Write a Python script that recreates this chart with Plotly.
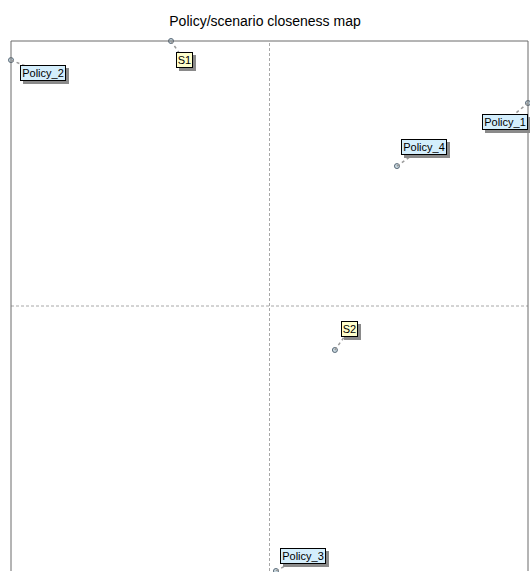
import plotly.graph_objects as go

# Data (normalized closeness coordinates)
names = ["Policy_1", "Policy_2", "Policy_3", "Policy_4", "S1", "S2"]
xs = [1.0, -1.0, 0.025, 0.493, -0.381, 0.253]
ys = [0.766, 0.928, -1.0, 0.528, 1.0, -0.166]
kinds = ["policy", "policy", "policy", "policy", "scenario", "scenario"]
# label offsets in pixels (screen: +x right, +y down)
label_dx = [-23, 32, 27, 27, 13, 15]
label_dy = [19, 13, -15, -19, 19, -21]

fill = {"policy": "#d4eefc", "scenario": "#ffffcc"}
box_w = {"policy": 44, "scenario": 15}
box_h = 14
label_font = "Liberation Sans, Arial"

fig = go.Figure()

fig.add_trace(go.Scatter(
    x=xs, y=ys, mode="markers",
    marker=dict(symbol="circle", size=5, color="#c8d8e0",
                line=dict(color="#5a6a78", width=1)),
    hoverinfo="text", text=names, showlegend=False, cliponaxis=False,
))

shapes = []
# dashed center lines
shapes.append(dict(type="line", xref="x", yref="paper", x0=0, x1=0, y0=0, y1=1,
                   line=dict(color="#a8a8a8", width=1, dash="3px,2px"), layer="below"))
shapes.append(dict(type="line", xref="paper", yref="y", x0=0, x1=1, y0=0, y1=0,
                   line=dict(color="#a8a8a8", width=1, dash="3px,2px"), layer="below"))
# border (left, top, right)
for (x0, y0, x1, y1) in [(0, 0, 0, 1), (0, 1, 1, 1), (1, 0, 1, 1)]:
    shapes.append(dict(type="line", xref="paper", yref="paper", x0=x0, y0=y0, x1=x1, y1=y1,
                       line=dict(color="#6a6a6a", width=1)))

annotations = []
for n, x, y, k, dx, dy in zip(names, xs, ys, kinds, label_dx, label_dy):
    # dotted leader line
    lx = dx * 0.6
    ly = dy * 0.6
    shapes.append(dict(type="line", xref="x", yref="y", xsizemode="pixel", ysizemode="pixel",
                       xanchor=x, yanchor=y, x0=0, y0=0, x1=lx, y1=-ly,
                       line=dict(color="#9a9a9a", width=1.5, dash="dot")))
    # shadow box
    annotations.append(dict(x=x, y=y, xref="x", yref="y", ax=dx + 3, ay=dy + 3,
                            showarrow=True, arrowcolor="rgba(0,0,0,0)", arrowwidth=0.1,
                            text=" ", width=box_w[k], height=box_h,
                            font=dict(family=label_font, size=11),
                            bgcolor="#8a8a8a", borderpad=0, borderwidth=1, bordercolor="#8a8a8a"))
    annotations.append(dict(x=x, y=y, xref="x", yref="y", ax=dx, ay=dy,
                            showarrow=True, arrowcolor="rgba(0,0,0,0)", arrowwidth=0.1,
                            text=n, width=box_w[k], height=box_h,
                            font=dict(family=label_font, size=11, color="#000000"),
                            bgcolor=fill[k], borderpad=0, borderwidth=1, bordercolor="#000000"))

fig.update_layout(
    width=530, height=572,
    margin=dict(l=11, r=2, t=41, b=1),
    paper_bgcolor="white", plot_bgcolor="white",
    title=dict(text="Policy/scenario closeness map", x=0.5, xanchor="center",
               y=1 - 21 / 572, yanchor="middle",
               font=dict(family="Liberation Sans, Arial", size=14, color="#000000")),
    xaxis=dict(range=[-1, 1], showgrid=False, zeroline=False, showticklabels=False,
               showline=False, fixedrange=True),
    yaxis=dict(range=[-1, 1], showgrid=False, zeroline=False, showticklabels=False,
               showline=False, fixedrange=True),
    shapes=shapes, annotations=annotations,
)

fig.write_html("out.html", config={"displayModeBar": False},
               post_script="document.body.style.margin='0';document.body.style.overflow='hidden';")
